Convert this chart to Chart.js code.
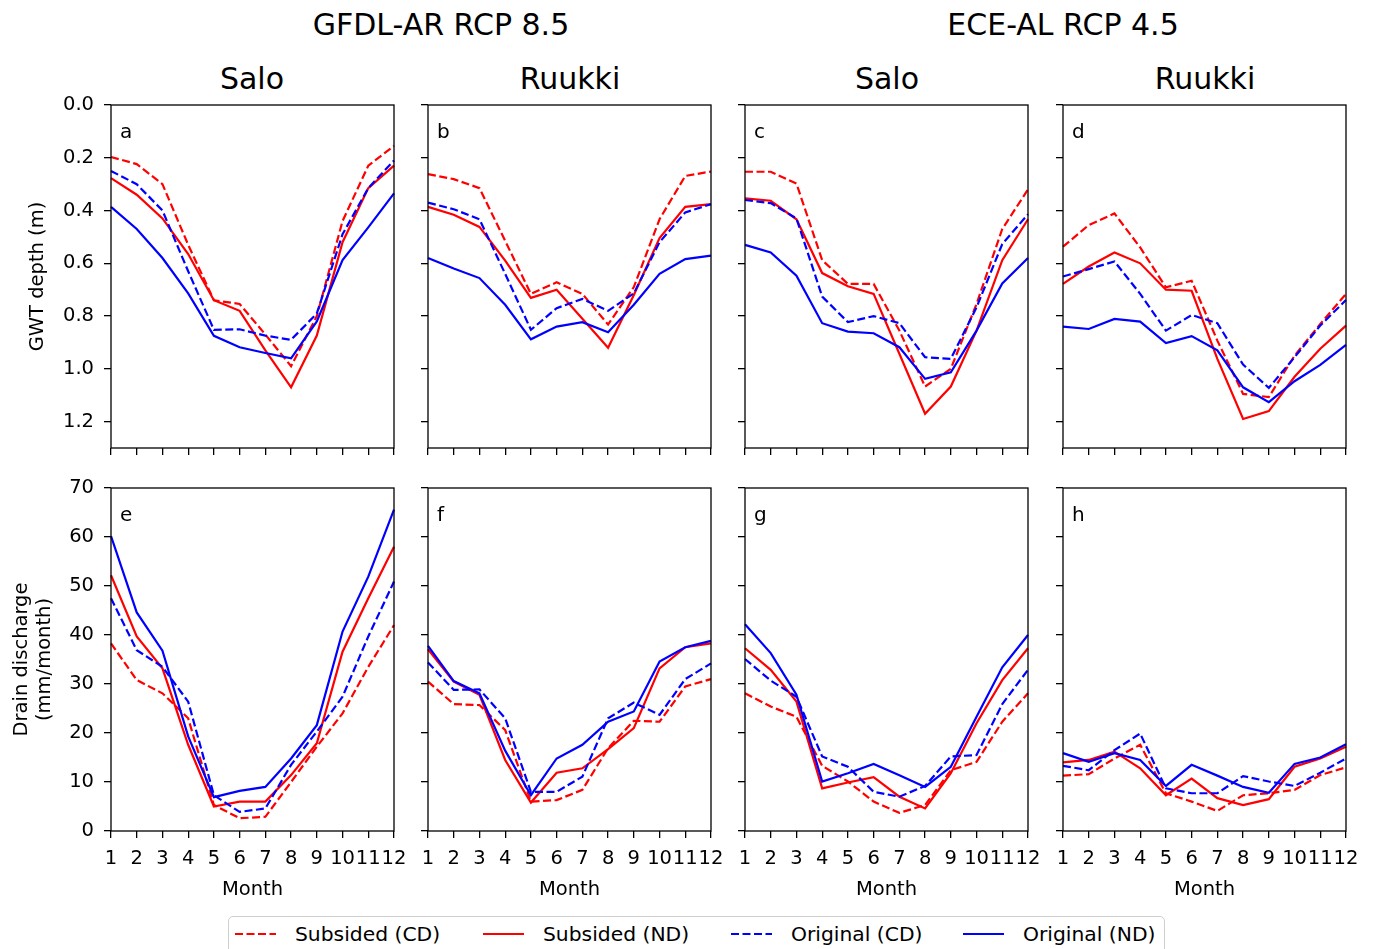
<!DOCTYPE html>
<html>
<head>
<meta charset="utf-8">
<script src="https://cdn.jsdelivr.net/npm/chart.js@4.4.0/dist/chart.umd.min.js"></script>
<style>
  body { margin: 0; background: #fff; width: 1373px; height: 949px; overflow: hidden; position: relative; font-family: 'DejaVu Sans', sans-serif; color: #000; }
  .panel { position: absolute; }
  .txt { position: absolute; white-space: nowrap; transform: translate(-50%, -50%); line-height: 1; }
  .big { font-size: 30px; }
  #legend { position: absolute; left: 228px; top: 916px; width: 935px; height: 45px; border: 1.3px solid #cfcfcf; border-radius: 5px; background: #fff; }
  .lg-item { position: absolute; top: 0; height: 34px; display: flex; align-items: center; font-size: 20.3px; }
  .lg-item svg { margin-right: 19px; }
</style>
</head>
<body>

<div class="txt big" style="left:441px; top:25px;">GFDL-AR RCP 8.5</div>
<div class="txt big" style="left:1063px; top:25px;">ECE-AL RCP 4.5</div>
<div class="txt big" style="left:252px; top:79px;">Salo</div>
<div class="txt big" style="left:570px; top:79px;">Ruukki</div>
<div class="txt big" style="left:887px; top:79px;">Salo</div>
<div class="txt big" style="left:1205px; top:79px;">Ruukki</div>

<div id="legend"></div>

<script>
// Monate (x-Achse)
const months = ['1', '2', '3', '4', '5', '6', '7', '8', '9', '10', '11', '12'];

// GWT depth (m) - obere Reihe
const aSubCD  = [0.197, 0.224, 0.30, 0.53, 0.74, 0.754, 0.87, 0.99, 0.80, 0.44, 0.23, 0.155];
const aSubND  = [0.277, 0.34, 0.43, 0.565, 0.74, 0.78, 0.93, 1.07, 0.874, 0.52, 0.315, 0.23];
const aOrigCD = [0.25, 0.30, 0.40, 0.63, 0.852, 0.85, 0.874, 0.89, 0.79, 0.49, 0.315, 0.21];
const aOrigND = [0.386, 0.47, 0.58, 0.714, 0.875, 0.918, 0.94, 0.96, 0.82, 0.588, 0.464, 0.335];

const bSubCD  = [0.262, 0.281, 0.315, 0.515, 0.716, 0.672, 0.716, 0.832, 0.69, 0.433, 0.269, 0.252];
const bSubND  = [0.386, 0.416, 0.462, 0.59, 0.731, 0.70, 0.81, 0.92, 0.72, 0.504, 0.386, 0.376];
const bOrigCD = [0.37, 0.395, 0.433, 0.64, 0.852, 0.77, 0.735, 0.78, 0.714, 0.52, 0.407, 0.376];
const bOrigND = [0.58, 0.62, 0.656, 0.757, 0.888, 0.84, 0.823, 0.861, 0.757, 0.64, 0.584, 0.571];

const cSubCD  = [0.253, 0.253, 0.298, 0.588, 0.678, 0.678, 0.855, 1.067, 1.0, 0.754, 0.47, 0.32];
const cSubND  = [0.354, 0.363, 0.433, 0.637, 0.687, 0.716, 0.943, 1.17, 1.067, 0.855, 0.588, 0.433];
const cOrigCD = [0.36, 0.372, 0.43, 0.726, 0.823, 0.80, 0.827, 0.956, 0.962, 0.767, 0.527, 0.414];
const cOrigND = [0.53, 0.559, 0.647, 0.827, 0.859, 0.865, 0.918, 1.038, 1.013, 0.855, 0.676, 0.58];

const dSubCD  = [0.537, 0.455, 0.411, 0.54, 0.691, 0.666, 0.893, 1.095, 1.107, 0.95, 0.83, 0.716];
const dSubND  = [0.678, 0.612, 0.559, 0.60, 0.70, 0.704, 0.962, 1.19, 1.16, 1.03, 0.924, 0.836];
const dOrigCD = [0.65, 0.622, 0.593, 0.716, 0.855, 0.796, 0.827, 0.984, 1.072, 0.956, 0.836, 0.739];
const dOrigND = [0.84, 0.849, 0.811, 0.821, 0.902, 0.876, 0.93, 1.07, 1.126, 1.047, 0.985, 0.909];

// Drain discharge (mm/month) - untere Reihe
const eSubCD  = [38.3, 30.8, 28.1, 23, 5.3, 2.6, 2.9, 10, 17.2, 24, 33.5, 42];
const eSubND  = [52.2, 39.7, 33.2, 17.6, 5, 6, 6, 11.4, 17.9, 36.6, 47.5, 58];
const eOrigCD = [47.5, 36.9, 33.5, 26.4, 7.3, 3.9, 4.6, 13.5, 20.3, 27.4, 39.7, 50.9];
const eOrigND = [60.2, 44.6, 36.8, 19.3, 6.9, 8.2, 9, 14.8, 21.6, 40.7, 51.9, 65.6];

const fSubCD  = [30.5, 25.9, 25.7, 20.6, 6, 6.3, 8.4, 16.9, 22.5, 22.3, 29.5, 31];
const fSubND  = [37.1, 30.5, 27.8, 14.5, 5.8, 11.9, 12.8, 16.7, 21, 33.2, 37.5, 38.3];
const fOrigCD = [34.4, 28.8, 28.9, 23, 8, 8, 11.1, 23, 26.2, 23.7, 31, 34.2];
const fOrigND = [37.8, 30.6, 28.1, 16.4, 7.3, 14.8, 17.6, 22.3, 24.4, 34.6, 37.5, 38.8];

const gSubCD  = [28.1, 25.4, 23.3, 13.3, 10.1, 6, 3.7, 5.3, 12.4, 14.1, 22.3, 28.1];
const gSubND  = [37.3, 32.9, 26.4, 8.7, 9.9, 11, 7, 4.6, 11.8, 22, 30.8, 37.3];
const gOrigCD = [35.1, 30.7, 27.4, 15.2, 13.1, 8, 7, 9.2, 15.2, 15.5, 25.9, 32.9];
const gOrigND = [42.2, 36.3, 27.8, 10.1, 11.8, 13.7, 11.4, 9, 13.1, 23.3, 33.4, 40];

const hSubCD  = [11.3, 11.6, 14.8, 17.6, 7.7, 6, 4.1, 7.3, 7.7, 8.4, 11.4, 13];
const hSubND  = [14, 14.5, 16.2, 12.8, 7.3, 10.7, 6.7, 5.3, 6.5, 13.1, 14.8, 17.2];
const hOrigCD = [13.3, 12.4, 16.5, 19.9, 8.7, 7.7, 7.7, 11.2, 10.1, 9.2, 11.9, 14.8];
const hOrigND = [15.9, 14.1, 15.9, 14.5, 9.2, 13.5, 11.3, 9, 7.8, 13.7, 15, 17.7];

const seriesNames = ['Subsided (CD)', 'Subsided (ND)', 'Original (CD)', 'Original (ND)'];

// Layout (Pixel)
const colLeft = [111, 428, 745, 1063];
const rowTop = [105, 488];
const plotW = 283, plotH = 343;
const padTop = 23, padRight = 24;
const FS = 19.5;

Chart.defaults.font.family = "'DejaVu Sans', sans-serif";
Chart.defaults.color = '#000';
Chart.defaults.animation = false;

const styles = [
  { color: '#ff0000', dash: [8, 3.5] },
  { color: '#ff0000', dash: [] },
  { color: '#0000ff', dash: [8, 3.5] },
  { color: '#0000ff', dash: [] }
];

// Rahmen + Buchstabe im Plot
const framePlugin = {
  id: 'frame',
  afterDatasetsDraw(chart, args, opts) {
    const { ctx, chartArea: a } = chart;
    ctx.save();
    ctx.strokeStyle = '#000';
    ctx.lineWidth = 1.3;
    ctx.strokeRect(a.left, a.top, a.right - a.left, a.bottom - a.top);
    ctx.fillStyle = '#000';
    ctx.font = "20px 'DejaVu Sans'";
    ctx.textBaseline = 'alphabetic';
    ctx.fillText(opts.letter, a.left + 9, a.top + 33);
    ctx.restore();
  }
};

function makePanel(letter, col, row, series) {
  const isTop = row === 0;
  const isFirst = col === 0;
  const yW = isFirst ? colLeft[0] : 18;
  // y-Achse braucht unten Platz fuer das halbe Label + padding
  const xH = isTop ? 23 : 75;

  const wrap = document.createElement('div');
  wrap.className = 'panel';
  const left = colLeft[col] - yW;
  const top = rowTop[row] - padTop;
  const w = yW + plotW + padRight;
  const h = padTop + plotH + xH;
  wrap.style.left = left + 'px';
  wrap.style.top = top + 'px';
  const canvas = document.createElement('canvas');
  canvas.width = w;
  canvas.height = h;
  canvas.style.width = w + 'px';
  canvas.style.height = h + 'px';
  wrap.appendChild(canvas);
  document.body.appendChild(wrap);

  // Reihenfolge umdrehen: letzte Serie oben
  const datasets = series.map((d, i) => ({
    label: seriesNames[i],
    data: d,
    borderColor: styles[i].color,
    borderDash: styles[i].dash,
    borderWidth: 2.2,
    pointRadius: 0,
    tension: 0,
    fill: false
  })).reverse();

  new Chart(canvas, {
    type: 'line',
    data: { labels: months, datasets: datasets },
    options: {
      responsive: false,
      maintainAspectRatio: false,
      layout: { padding: { top: padTop, right: padRight, left: 0, bottom: 0 } },
      plugins: {
        legend: { display: false },
        tooltip: { enabled: false },
        frame: { letter: letter }
      },
      scales: {
        x: {
          offset: false,
          ticks: { display: !isTop, font: { size: FS }, padding: 9, maxRotation: 0, autoSkip: false },
          grid: { drawOnChartArea: false, drawTicks: true, tickLength: 7, color: '#000', lineWidth: 1.3, offset: false },
          border: { display: false },
          title: { display: !isTop, text: 'Month', font: { size: FS }, padding: { top: 0, bottom: 4 } },
          afterFit: s => { s.height = xH; }
        },
        y: {
          reverse: isTop,
          min: 0,
          max: isTop ? 1.3 : 70,
          ticks: {
            display: isFirst,
            stepSize: isTop ? 0.2 : 10,
            includeBounds: false,
            font: { size: FS },
            padding: 10,
            callback: v => isTop ? v.toFixed(1) : v
          },
          grid: { drawOnChartArea: false, drawTicks: true, tickLength: 7, color: '#000', lineWidth: 1.3 },
          border: { display: false },
          title: {
            display: isFirst,
            text: isTop ? 'GWT depth (m)' : ['Drain discharge', '(mm/month)'],
            font: { size: FS },
            padding: { top: isTop ? 26 : 10, bottom: 0 }
          },
          afterFit: s => { s.width = yW; }
        }
      }
    },
    plugins: [framePlugin]
  });
}

makePanel('a', 0, 0, [aSubCD, aSubND, aOrigCD, aOrigND]);
makePanel('b', 1, 0, [bSubCD, bSubND, bOrigCD, bOrigND]);
makePanel('c', 2, 0, [cSubCD, cSubND, cOrigCD, cOrigND]);
makePanel('d', 3, 0, [dSubCD, dSubND, dOrigCD, dOrigND]);
makePanel('e', 0, 1, [eSubCD, eSubND, eOrigCD, eOrigND]);
makePanel('f', 1, 1, [fSubCD, fSubND, fOrigCD, fOrigND]);
makePanel('g', 2, 1, [gSubCD, gSubND, gOrigCD, gOrigND]);
makePanel('h', 3, 1, [hSubCD, hSubND, hOrigCD, hOrigND]);

// Legende (HTML)
const legendX = [6, 254, 502, 734];
const legend = document.getElementById('legend');
seriesNames.forEach((name, i) => {
  const item = document.createElement('div');
  item.className = 'lg-item';
  item.style.left = legendX[i] + 'px';
  const dash = styles[i].dash.length ? 'stroke-dasharray="8 3.5"' : '';
  item.innerHTML = '<svg width="41" height="6"><line x1="0" y1="3" x2="41" y2="3" stroke="' + styles[i].color +
    '" stroke-width="2.2" ' + dash + '/></svg><span>' + name + '</span>';
  legend.appendChild(item);
});
</script>
</body>
</html>
